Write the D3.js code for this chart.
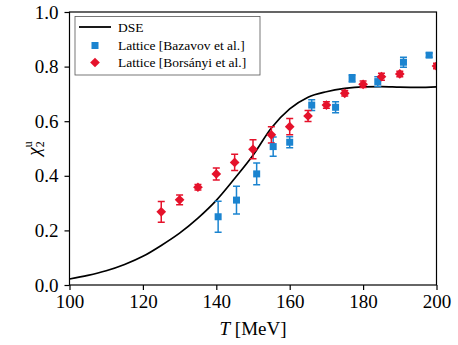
<!DOCTYPE html>
<html>
<head>
<meta charset="utf-8">
<script src="https://cdn.jsdelivr.net/npm/d3@7"></script>
<style>
  body { margin: 0; background: #fff; }
  svg text { font-family: "Liberation Serif", "DejaVu Serif", serif !important; }
</style>
</head>
<body>
<div id="chart"></div>
<script>
// DSE curve
const dseT = [100, 105, 110, 115, 120, 125, 130, 135, 140, 145, 150, 155, 160, 165, 170, 175, 180, 185, 190, 195, 200]
const dseChi = [0.022, 0.035, 0.052, 0.075, 0.105, 0.145, 0.19, 0.245, 0.31, 0.39, 0.475, 0.575, 0.645, 0.688, 0.708, 0.72, 0.726, 0.727, 0.725, 0.724, 0.726]

// Lattice [Bazavov et al.]
const bazT = [140.5, 145.5, 151, 155.5, 160, 166, 172.5, 177, 184, 191, 198]
const bazChi = [0.25, 0.311, 0.407, 0.507, 0.523, 0.659, 0.651, 0.757, 0.745, 0.816, 0.842]
const bazErr = [0.057, 0.051, 0.04, 0.035, 0.02, 0.02, 0.02, 0.013, 0.018, 0.018, 0.008]

// Lattice [Borsanyi et al.]
const borT = [125, 130, 135, 140, 145, 150, 155, 160, 165, 170, 175, 180, 185, 190, 200]
const borChi = [0.268, 0.312, 0.358, 0.407, 0.449, 0.497, 0.55, 0.58, 0.619, 0.659, 0.702, 0.735, 0.763, 0.773, 0.802]
const borErr = [0.038, 0.018, 0.01, 0.022, 0.03, 0.035, 0.03, 0.03, 0.02, 0.012, 0.01, 0.012, 0.013, 0.01, 0.01]

const xTicks = [100, 120, 140, 160, 180, 200]
const yTicks = [0.0, 0.2, 0.4, 0.6, 0.8, 1.0]

const blue = "#1b84d0"
const red = "#e5122b"

const W = 458, H = 345
const mLeft = 69.5, mRight = 436.5, mTop = 12, mBottom = 285

const svg = d3.select("#chart").append("svg")
    .attr("width", W)
    .attr("height", H)

const x = d3.scaleLinear().domain([100, 200]).range([mLeft, mRight])
const y = d3.scaleLinear().domain([0, 1]).range([mBottom, mTop])

svg.append("clipPath").attr("id", "clip")
    .append("rect")
    .attr("x", mLeft).attr("y", mTop)
    .attr("width", mRight - mLeft).attr("height", mBottom - mTop)

const plot = svg.append("g").attr("clip-path", "url(#clip)")

// DSE line
const dse = dseT.map((t, i) => [t, dseChi[i]])
plot.append("path")
    .datum(dse)
    .attr("fill", "none")
    .attr("stroke", "#000")
    .attr("stroke-width", 1.7)
    .attr("d", d3.line().x(d => x(d[0])).y(d => y(d[1])).curve(d3.curveMonotoneX))

function errorBars(ts, vs, es, color) {
    const g = plot.append("g").attr("stroke", color).attr("stroke-width", 1.5)
    ts.forEach((t, i) => {
        const cx = x(t), y0 = y(vs[i] - es[i]), y1 = y(vs[i] + es[i])
        g.append("line").attr("x1", cx).attr("x2", cx).attr("y1", y0).attr("y2", y1)
        g.append("line").attr("x1", cx - 3.5).attr("x2", cx + 3.5).attr("y1", y0).attr("y2", y0)
        g.append("line").attr("x1", cx - 3.5).attr("x2", cx + 3.5).attr("y1", y1).attr("y2", y1)
    })
}

errorBars(bazT, bazChi, bazErr, blue)
errorBars(borT, borChi, borErr, red)

const baz = bazT.map((t, i) => [t, bazChi[i]])
plot.selectAll(".baz").data(baz).enter().append("rect")
    .attr("class", "baz")
    .attr("x", d => x(d[0]) - 3.5)
    .attr("y", d => y(d[1]) - 3.5)
    .attr("width", 7)
    .attr("height", 7)
    .attr("fill", blue)

const diamond = d3.symbol().type(d3.symbolDiamond2).size(60)
const bor = borT.map((t, i) => [t, borChi[i]])
plot.selectAll(".bor").data(bor).enter().append("path")
    .attr("class", "bor")
    .attr("transform", d => `translate(${x(d[0])},${y(d[1])})`)
    .attr("d", diamond)
    .attr("fill", red)

// axes
const xAxis = svg.append("g")
    .attr("transform", `translate(0, ${mBottom})`)
    .call(d3.axisBottom(x).tickValues(xTicks).tickFormat(d3.format("d")).tickSize(5).tickPadding(5))
const yAxis = svg.append("g")
    .attr("transform", `translate(${mLeft}, 0)`)
    .call(d3.axisLeft(y).tickValues(yTicks).tickFormat(d3.format(".1f")).tickSize(5).tickPadding(6))

;[xAxis, yAxis].forEach(a => {
    a.attr("font-family", "Liberation Serif").attr("font-size", 19)
    a.select(".domain").remove()
    a.selectAll("line").attr("stroke-width", 1.2)
    a.selectAll("text").attr("fill", "#000").style("font-size", "19px")
})

// frame
svg.append("rect")
    .attr("x", mLeft).attr("y", mTop)
    .attr("width", mRight - mLeft).attr("height", mBottom - mTop)
    .attr("fill", "none").attr("stroke", "#000").attr("stroke-width", 1.2)

// axis labels
const xl = svg.append("text")
    .attr("x", (mLeft + mRight) / 2)
    .attr("y", 335)
    .attr("text-anchor", "middle")
    .style("font-size", "19px")
xl.append("tspan").attr("font-style", "italic").text("T")
xl.append("tspan").text(" [MeV]")

const yl = svg.append("text")
    .attr("transform", `translate(40, ${(mTop + mBottom) / 2}) rotate(-90)`)
    .attr("text-anchor", "middle")
    .style("font-size", "19px")
yl.append("tspan").attr("font-style", "italic").text("χ")
yl.append("tspan").attr("font-size", "12px").attr("dy", 4).text("2")
yl.append("tspan").attr("font-size", "12px").attr("dx", -6).attr("dy", -12).text("u")

// legend
const lg = svg.append("g")
lg.append("rect")
    .attr("x", 75).attr("y", 16.5)
    .attr("width", 185).attr("height", 58.5)
    .attr("fill", "#fff").attr("stroke", "#555").attr("stroke-width", 0.8)
const rows = [27, 45.5, 62.5]
lg.append("line").attr("x1", 79).attr("x2", 111).attr("y1", rows[0]).attr("y2", rows[0])
    .attr("stroke", "#000").attr("stroke-width", 1.8)
lg.append("rect").attr("x", 95 - 3.5).attr("y", rows[1] - 3.5).attr("width", 7).attr("height", 7).attr("fill", blue)
lg.append("path").attr("transform", `translate(95,${rows[2]})`).attr("d", diamond).attr("fill", red)
const labels = ["DSE", "Lattice [Bazavov et al.]", "Lattice [Borsányi et al.]"]
labels.forEach((s, i) => {
    lg.append("text")
        .attr("x", 118)
        .attr("y", rows[i] + 4.5)
        .style("font-size", "13.5px")
        .text(s)
})
</script>
</body>
</html>
